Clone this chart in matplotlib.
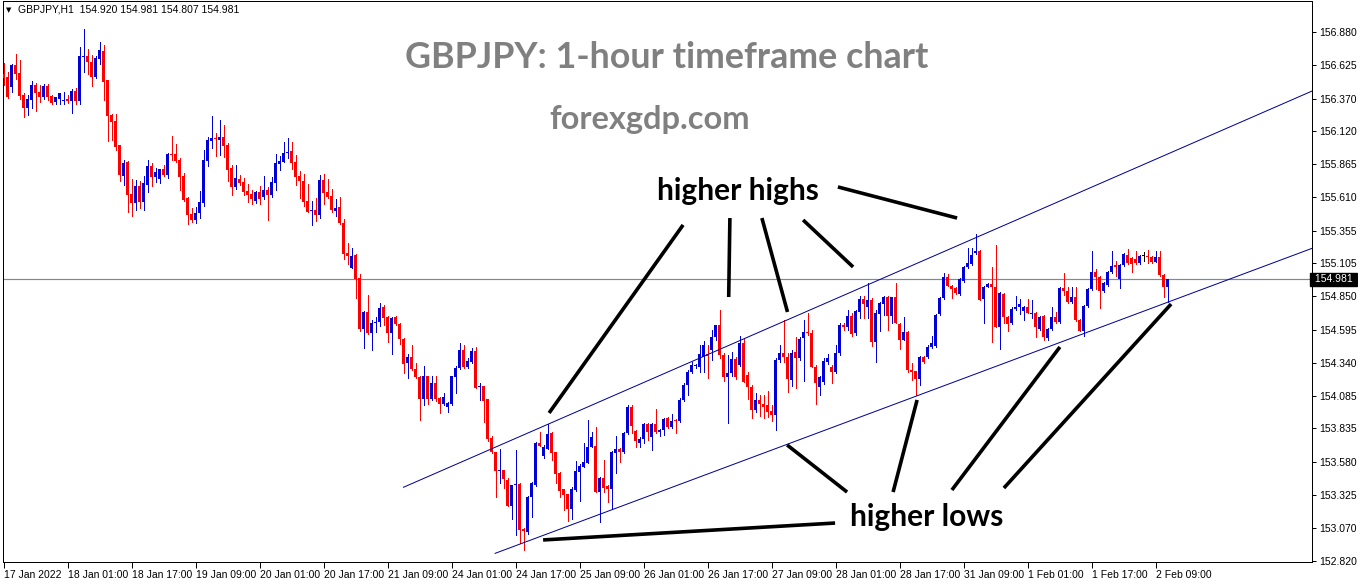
import numpy as np
import matplotlib
matplotlib.use("Agg")
import matplotlib.pyplot as plt
import matplotlib.transforms as mtransforms
from matplotlib import rcParams

rcParams['font.family'] = ['Liberation Sans', 'DejaVu Sans']

# ---- data (GBPJPY H1, 17 Jan 09:00 -> 2 Feb 11:00) ----
symbol = "GBPJPY,H1"
last_ohlc = "154.920 154.981 154.807 154.981"
last_price = 154.981

opens = [
    156.559, 156.536, 156.459, 156.628, 156.567, 156.398, 156.298, 156.359, 156.475, 156.421,
    156.382, 156.467, 156.390, 156.344, 156.367, 156.351, 156.367, 156.351, 156.428, 156.351,
    156.690, 156.698, 156.651, 156.536, 156.675, 156.736, 156.513, 156.245, 156.198, 156.014,
    155.775, 155.883, 155.637, 155.568, 155.699, 155.576, 155.707, 155.852, 155.768, 155.752,
    155.829, 155.783, 155.944, 155.944, 155.898, 155.775, 155.607, 155.483, 155.437, 155.491,
    155.568, 155.890, 156.044, 156.067, 156.052, 156.075, 156.014, 155.837, 155.691, 155.752,
    155.730, 155.660, 155.637, 155.583, 155.653, 155.614, 155.668, 155.629, 155.722, 155.867,
    155.883, 155.952, 155.968, 155.883, 155.775, 155.737, 155.583, 155.506, 155.514, 155.476,
    155.745, 155.653, 155.622, 155.506, 155.537, 155.414, 155.183, 155.068, 155.168, 154.992,
    154.599, 154.730, 154.568, 154.645, 154.653, 154.768, 154.691, 154.568, 154.691, 154.638,
    154.523, 154.338, 154.384, 154.292, 154.230, 154.061, 154.238, 154.061, 154.184, 154.069,
    154.023, 154.000, 154.023, 154.230, 154.300, 154.438, 154.307, 154.346, 154.430, 154.154,
    154.161, 154.061, 153.761, 153.654, 153.508, 153.516, 153.439, 153.239, 153.401, 153.408,
    153.062, 153.039, 153.308, 153.401, 153.723, 153.623, 153.677, 153.800, 153.654, 153.493,
    153.370, 153.331, 153.216, 153.362, 153.500, 153.539, 153.569, 153.692, 153.700, 153.346,
    153.454, 153.393, 153.370, 153.646, 153.677, 153.654, 153.800, 154.000, 153.815, 153.723,
    153.754, 153.869, 153.769, 153.869, 153.808, 153.823, 153.915, 153.846, 153.900, 153.892,
    154.054, 154.168, 154.269, 154.315, 154.307, 154.384, 154.407, 154.438, 154.538, 154.630,
    154.400, 154.230, 154.261, 154.369, 154.323, 154.492, 154.246, 154.154, 153.977, 154.054,
    154.023, 154.015, 153.969, 153.938, 154.361, 154.415, 154.384, 154.207, 154.422, 154.376,
    154.530, 154.576, 154.568, 154.307, 154.154, 154.192, 154.346, 154.307, 154.269, 154.415,
    154.630, 154.615, 154.699, 154.568, 154.730, 154.830, 154.768, 154.822, 154.500, 154.714,
    154.791, 154.845, 154.699, 154.845, 154.638, 154.515, 154.576, 154.284, 154.276, 154.215,
    154.384, 154.384, 154.461, 154.469, 154.714, 154.837, 154.999, 154.930, 154.915, 154.868,
    154.968, 155.076, 155.099, 155.183, 155.199, 154.830, 154.922, 154.945, 154.922, 154.615,
    154.868, 154.691, 154.645, 154.753, 154.768, 154.737, 154.768, 154.714, 154.722, 154.599,
    154.699, 154.530, 154.599, 154.691, 154.653, 154.915, 154.891, 154.807, 154.845, 154.668,
    154.584, 154.776, 154.907, 155.038, 154.999, 154.891, 154.938, 155.038, 155.091, 154.984,
    155.091, 155.168, 155.145, 155.137, 155.107, 155.160, 155.160, 155.153, 155.115, 155.153,
    155.015, 154.920,
]

highs = [
    156.644, 156.575, 156.636, 156.713, 156.667, 156.413, 156.398, 156.505, 156.490, 156.475,
    156.482, 156.482, 156.398, 156.382, 156.413, 156.421, 156.398, 156.444, 156.452, 156.767,
    156.905, 156.751, 156.705, 156.698, 156.805, 156.782, 156.513, 156.252, 156.252, 156.014,
    155.898, 155.890, 155.752, 155.745, 155.737, 155.775, 155.898, 155.875, 155.837, 155.829,
    155.860, 155.952, 156.083, 156.021, 155.914, 155.798, 155.614, 155.530, 155.537, 155.660,
    155.975, 156.075, 156.237, 156.106, 156.206, 156.168, 156.029, 155.860, 155.860, 155.783,
    155.760, 155.714, 155.668, 155.660, 155.699, 155.775, 155.691, 155.768, 155.944, 155.929,
    156.037, 156.067, 156.037, 155.937, 155.814, 155.791, 155.714, 155.583, 155.607, 155.783,
    155.791, 155.752, 155.676, 155.599, 155.614, 155.445, 155.260, 155.222, 155.176, 155.022,
    154.737, 154.861, 154.668, 154.691, 154.799, 154.783, 154.699, 154.691, 154.699, 154.645,
    154.530, 154.407, 154.476, 154.338, 154.238, 154.315, 154.238, 154.238, 154.238, 154.077,
    154.108, 154.038, 154.238, 154.315, 154.492, 154.476, 154.376, 154.453, 154.461, 154.184,
    154.161, 154.061, 153.777, 153.654, 153.677, 153.516, 153.454, 153.401, 153.669, 153.416,
    153.070, 153.316, 153.424, 153.731, 153.808, 153.708, 153.869, 153.808, 153.654, 153.500,
    153.370, 153.331, 153.385, 153.585, 153.562, 153.723, 153.900, 153.808, 153.846, 153.462,
    153.592, 153.401, 153.662, 153.777, 153.685, 153.808, 154.015, 154.015, 153.823, 153.769,
    153.877, 153.877, 153.877, 153.985, 153.831, 153.915, 153.923, 153.946, 153.908, 154.069,
    154.184, 154.284, 154.346, 154.330, 154.476, 154.507, 154.476, 154.592, 154.630, 154.745,
    154.415, 154.400, 154.422, 154.384, 154.546, 154.530, 154.269, 154.168, 154.108, 154.092,
    154.092, 154.123, 154.015, 154.376, 154.476, 154.668, 154.415, 154.438, 154.538, 154.538,
    154.668, 154.722, 154.592, 154.323, 154.238, 154.376, 154.407, 154.323, 154.476, 154.645,
    154.645, 154.745, 154.722, 154.745, 154.853, 154.853, 154.953, 154.837, 154.745, 154.807,
    154.853, 154.853, 154.845, 154.953, 154.645, 154.691, 154.584, 154.338, 154.276, 154.392,
    154.392, 154.476, 154.546, 154.714, 154.845, 155.030, 155.022, 154.938, 154.922, 154.992,
    155.084, 155.222, 155.222, 155.330, 155.206, 154.930, 154.953, 155.076, 155.245, 154.884,
    154.876, 154.699, 154.768, 154.853, 154.830, 154.776, 154.830, 154.822, 154.730, 154.699,
    154.707, 154.607, 154.768, 154.730, 154.922, 155.030, 154.922, 154.922, 154.922, 154.676,
    154.784, 154.915, 155.199, 155.061, 155.007, 154.961, 155.045, 155.199, 155.122, 155.099,
    155.183, 155.214, 155.153, 155.199, 155.168, 155.191, 155.206, 155.160, 155.199, 155.199,
    155.022, 154.981,
]

lows = [
    156.475, 156.375, 156.421, 156.521, 156.367, 156.229, 156.245, 156.298, 156.275, 156.344,
    156.367, 156.359, 156.328, 156.328, 156.328, 156.328, 156.336, 156.260, 156.328, 156.328,
    156.575, 156.559, 156.467, 156.529, 156.636, 156.359, 156.044, 156.052, 155.975, 155.737,
    155.707, 155.499, 155.468, 155.514, 155.530, 155.514, 155.653, 155.699, 155.730, 155.722,
    155.775, 155.760, 155.898, 155.883, 155.668, 155.583, 155.406, 155.422, 155.414, 155.453,
    155.545, 155.852, 155.991, 155.929, 155.937, 155.921, 155.737, 155.629, 155.676, 155.707,
    155.629, 155.576, 155.560, 155.568, 155.560, 155.599, 155.437, 155.614, 155.668, 155.821,
    155.883, 155.914, 155.829, 155.707, 155.607, 155.545, 155.499, 155.399, 155.429, 155.453,
    155.560, 155.607, 155.499, 155.468, 155.406, 155.137, 155.099, 155.068, 154.837, 154.584,
    154.453, 154.561, 154.438, 154.576, 154.622, 154.630, 154.500, 154.407, 154.630, 154.484,
    154.261, 154.223, 154.284, 154.223, 153.900, 154.015, 154.023, 154.054, 154.046, 153.954,
    154.015, 153.962, 154.015, 154.108, 154.292, 154.300, 154.300, 154.338, 154.146, 154.054,
    153.885, 153.738, 153.646, 153.308, 153.416, 153.377, 153.239, 153.139, 153.016, 152.955,
    152.901, 153.024, 153.154, 153.393, 153.700, 153.608, 153.677, 153.592, 153.416, 153.308,
    153.208, 153.123, 153.139, 153.354, 153.277, 153.539, 153.569, 153.692, 153.346, 153.116,
    153.346, 153.270, 153.216, 153.493, 153.577, 153.646, 153.792, 153.800, 153.692, 153.692,
    153.723, 153.746, 153.669, 153.800, 153.777, 153.785, 153.838, 153.838, 153.800, 153.885,
    154.046, 154.090, 154.261, 154.300, 154.269, 154.269, 154.223, 154.361, 154.515, 154.376,
    154.200, 153.877, 154.238, 154.215, 154.315, 154.192, 154.061, 153.915, 153.962, 153.931,
    153.915, 153.923, 153.892, 153.823, 154.346, 154.346, 154.115, 154.161, 154.146, 154.361,
    154.200, 154.553, 154.307, 154.023, 154.092, 154.177, 154.330, 154.184, 154.261, 154.400,
    154.592, 154.592, 154.546, 154.553, 154.684, 154.684, 154.684, 154.469, 154.346, 154.584,
    154.707, 154.592, 154.645, 154.645, 154.446, 154.515, 154.269, 154.207, 154.092, 154.169,
    154.338, 154.376, 154.453, 154.461, 154.707, 154.830, 154.930, 154.837, 154.868, 154.861,
    154.961, 155.068, 155.091, 155.176, 154.822, 154.645, 154.922, 154.500, 154.615, 154.446,
    154.645, 154.584, 154.638, 154.745, 154.714, 154.668, 154.722, 154.684, 154.538, 154.592,
    154.515, 154.515, 154.592, 154.645, 154.645, 154.861, 154.799, 154.799, 154.661, 154.584,
    154.546, 154.768, 154.899, 154.907, 154.761, 154.884, 154.930, 155.030, 155.007, 154.915,
    155.084, 155.099, 155.038, 155.099, 155.099, 155.122, 155.107, 155.107, 155.115, 155.007,
    154.845, 154.807,
]

closes = [
    156.529, 156.382, 156.628, 156.559, 156.390, 156.298, 156.367, 156.475, 156.413, 156.382,
    156.467, 156.382, 156.336, 156.382, 156.413, 156.359, 156.351, 156.428, 156.351, 156.698,
    156.698, 156.651, 156.536, 156.682, 156.744, 156.498, 156.237, 156.191, 155.998, 155.783,
    155.875, 155.629, 155.568, 155.699, 155.576, 155.722, 155.852, 155.768, 155.806, 155.829,
    155.783, 155.944, 155.937, 155.890, 155.768, 155.591, 155.476, 155.437, 155.491, 155.576,
    155.898, 156.052, 156.067, 156.060, 156.075, 156.006, 155.821, 155.691, 155.760, 155.722,
    155.653, 155.629, 155.599, 155.653, 155.599, 155.668, 155.629, 155.730, 155.875, 155.890,
    155.952, 155.960, 155.875, 155.768, 155.737, 155.576, 155.499, 155.514, 155.476, 155.745,
    155.645, 155.614, 155.514, 155.530, 155.414, 155.176, 155.160, 155.160, 154.984, 154.599,
    154.730, 154.568, 154.645, 154.653, 154.760, 154.684, 154.568, 154.684, 154.638, 154.523,
    154.330, 154.384, 154.292, 154.230, 154.061, 154.238, 154.061, 154.184, 154.061, 154.023,
    154.077, 154.031, 154.238, 154.300, 154.438, 154.307, 154.353, 154.430, 154.146, 154.161,
    154.046, 153.754, 153.654, 153.508, 153.516, 153.447, 153.239, 153.401, 153.408, 153.054,
    153.047, 153.308, 153.416, 153.723, 153.700, 153.692, 153.792, 153.646, 153.485, 153.354,
    153.324, 153.216, 153.370, 153.508, 153.546, 153.577, 153.692, 153.769, 153.346, 153.454,
    153.377, 153.370, 153.654, 153.677, 153.654, 153.800, 154.000, 153.854, 153.738, 153.754,
    153.869, 153.808, 153.869, 153.808, 153.823, 153.908, 153.846, 153.892, 153.892, 154.054,
    154.168, 154.269, 154.323, 154.323, 154.407, 154.476, 154.392, 154.538, 154.630, 154.400,
    154.230, 154.261, 154.369, 154.230, 154.492, 154.192, 154.154, 153.977, 154.054, 154.023,
    154.000, 153.962, 153.938, 154.361, 154.415, 154.384, 154.215, 154.415, 154.376, 154.523,
    154.576, 154.568, 154.307, 154.184, 154.230, 154.353, 154.376, 154.269, 154.415, 154.630,
    154.615, 154.699, 154.561, 154.737, 154.830, 154.791, 154.822, 154.500, 154.722, 154.799,
    154.845, 154.699, 154.845, 154.645, 154.515, 154.576, 154.284, 154.269, 154.215, 154.384,
    154.346, 154.461, 154.492, 154.707, 154.837, 154.999, 154.930, 154.907, 154.876, 154.984,
    155.076, 155.107, 155.168, 155.199, 154.822, 154.922, 154.945, 154.922, 154.615, 154.876,
    154.691, 154.638, 154.753, 154.768, 154.791, 154.768, 154.722, 154.722, 154.615, 154.691,
    154.538, 154.599, 154.691, 154.653, 154.915, 154.891, 154.807, 154.845, 154.668, 154.584,
    154.776, 154.907, 155.038, 154.999, 154.891, 154.953, 155.038, 155.084, 155.076, 155.091,
    155.176, 155.107, 155.099, 155.107, 155.160, 155.160, 155.153, 155.115, 155.153, 155.015,
    154.922, 154.981,
]

price_ticks = [156.880, 156.625, 156.370, 156.120, 155.865, 155.610, 155.355, 155.105,
               154.850, 154.595, 154.340, 154.085, 153.835, 153.580, 153.325, 153.070, 152.820]

date_labels = ["17 Jan 2022", "18 Jan 01:00", "18 Jan 17:00", "19 Jan 09:00", "20 Jan 01:00",
               "20 Jan 17:00", "21 Jan 09:00", "24 Jan 01:00", "24 Jan 17:00", "25 Jan 09:00",
               "26 Jan 01:00", "26 Jan 17:00", "27 Jan 09:00", "28 Jan 01:00", "28 Jan 17:00",
               "31 Jan 09:00", "1 Feb 01:00", "1 Feb 17:00", "2 Feb 09:00"]
bars_per_label = 16

# trend channel, two anchor points each (bar index, price), drawn as rays
upper_channel = [(100.0, 153.383), (243.0, 155.300)]
lower_channel = [(122.9, 152.875), (219.0, 153.978)]

# hand drawn pointer lines (bar index, price)
higher_highs_marks = [((169.9, 155.399), (136.4, 153.954)),
                      ((181.6, 155.452), (181.3, 154.845)),
                      ((189.6, 155.452), (196.0, 154.730)),
                      ((199.9, 155.437), (212.4, 155.076)),
                      ((208.6, 155.691), (238.4, 155.452))]
higher_lows_marks = [((210.9, 153.346), (195.9, 153.708)),
                     ((207.9, 153.108), (134.9, 152.978)),
                     ((222.4, 153.346), (228.4, 154.054)),
                     ((237.1, 153.362), (264.1, 154.461)),
                     ((250.1, 153.377), (291.9, 154.791))]

W, H = 1358, 584
PX = 0.72  # one pixel in points at dpi 100


def draw_candles(ax, o, h, l, c):
    o, h, l, c = map(np.asarray, (o, h, l, c))
    idx = np.arange(len(o))
    colors = np.where(c > o, '#0000d8', np.where(c < o, '#ff0000', '#000000'))
    ax.vlines(idx, l, h, colors=colors, linewidth=PX, antialiased=False, zorder=3)
    body = np.maximum(np.abs(c - o), 0.0078)
    ax.bar(idx, body, bottom=np.minimum(o, c), width=0.8, color=colors,
           linewidth=0, antialiased=False, zorder=4)


def draw_ray(ax, pts, xmax, **kw):
    (x1, y1), (x2, y2) = pts
    slope = (y2 - y1) / (x2 - x1)
    ax.plot([x1, xmax], [y1, y1 + slope * (xmax - x1)], **kw)


fig = plt.figure(figsize=(W / 100, H / 100), dpi=100)
ax = fig.add_axes([3 / W, (H - 562) / H, (1312 - 3) / W, (562 - 1) / H])

xmin, xmax = -0.125, 327.125
ax.set_xlim(xmin, xmax)
ax.set_ylim(152.8085, 157.120)

draw_candles(ax, opens, highs, lows, closes)

ax.axhline(last_price, color='#7a8a99', linewidth=PX * 1.2, zorder=2)

draw_ray(ax, upper_channel, xmax + 1, color='#000096', linewidth=PX, zorder=5)
draw_ray(ax, lower_channel, xmax + 1, color='#000096', linewidth=PX, zorder=5)

for (a, b) in higher_highs_marks + higher_lows_marks:
    ax.plot([a[0], b[0]], [a[1], b[1]], color='black', linewidth=2.6,
            solid_capstyle='butt', zorder=6)

ax.text(183.6, 155.658, "higher highs", ha='center', va='center', fontsize=21.5,
        fontweight='bold', family='Lato', color='black', zorder=7)
ax.text(230.9, 153.155, "higher lows", ha='center', va='center', fontsize=21.5,
        fontweight='bold', family='Lato', color='black', zorder=7)

fig.text(667 / W, 1 - 58 / H, "GBPJPY: 1-hour timeframe chart", ha='center', va='center',
         fontsize=25.8, fontweight='bold', family='Lato', color='#808080')
fig.text(650 / W, 1 - 120 / H, "forexgdp.com", ha='center', va='center',
         fontsize=23.5, fontweight='bold', family='Lato', color='#808080')

# header in top-left corner
fig.text(6 / W, 1 - 10 / H, "\u25BC", ha='left', va='center', fontsize=5,
         family='DejaVu Sans', color='black')
fig.text(18 / W, 1 - 10 / H, symbol + "  " + last_ohlc, ha='left', va='center',
         fontsize=7.5, color='black')

# price scale on the right
ax.yaxis.tick_right()
ax.set_yticks(price_ticks)
ax.set_yticklabels(["%.3f" % p for p in price_ticks])
ax.tick_params(axis='y', direction='out', length=3, width=PX, pad=2, labelsize=7.5,
               colors='black')

# time scale at the bottom
ax.set_xticks(np.arange(len(date_labels)) * bars_per_label)
ax.set_xticklabels(date_labels)
ax.tick_params(axis='x', direction='out', length=4, width=PX, pad=2, labelsize=7.5,
               colors='black')
for lbl in ax.get_xticklabels():
    lbl.set_horizontalalignment('left')

for s in ax.spines.values():
    s.set_color('black')
    s.set_linewidth(PX)

# current price box
trans = mtransforms.blended_transform_factory(ax.transAxes, ax.transData)
ax.text(1.0, last_price, " %.3f " % last_price, transform=trans, ha='left', va='center',
        fontsize=7.5, color='white', zorder=8,
        bbox=dict(facecolor='black', edgecolor='black', boxstyle='square,pad=0.15'))

fig.savefig('out.png', dpi=100)
